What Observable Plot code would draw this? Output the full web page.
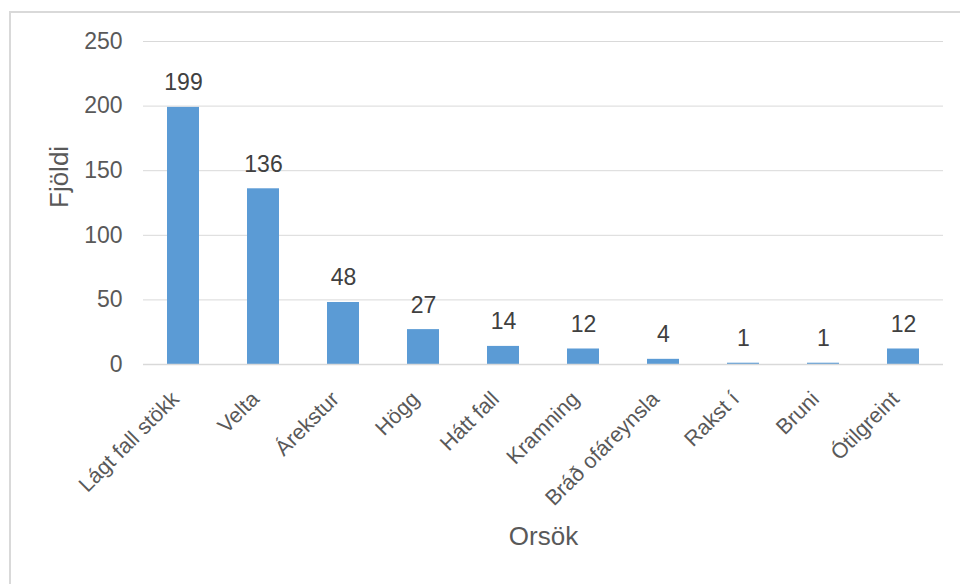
<!DOCTYPE html>
<html>
<head>
<meta charset="utf-8">
<script src="https://cdn.jsdelivr.net/npm/d3@7"></script>
<script src="https://cdn.jsdelivr.net/npm/@observablehq/plot@0.6"></script>
<style>
  html, body { margin: 0; padding: 0; background: #fff; }
  body { width: 960px; height: 584px; position: relative; overflow: hidden; font-family: "Liberation Sans", Arial, sans-serif; }
  #frame { position: absolute; left: 9px; top: 11px; width: 980px; height: 640px; border: 2px solid #d9d9d9; box-sizing: border-box; }
  #chart { position: absolute; left: 0; top: 0; }
</style>
</head>
<body>
<div id="frame"></div>
<div id="chart"></div>
<script>
const categories = ["Lágt fall stökk", "Velta", "Árekstur", "Högg", "Hátt fall", "Kramning", "Bráð ofáreynsla", "Rakst í", "Bruni", "Ótilgreint"];
const counts = [199, 136, 48, 27, 14, 12, 4, 1, 1, 12];
const yTicks = [0, 50, 100, 150, 200, 250];
const yTitle = "Fjöldi";
const xTitle = "Orsök";

const data = categories.map((c, i) => ({cat: c, n: counts[i]}));

const chart = Plot.plot({
  width: 960,
  height: 584,
  marginLeft: 143,
  marginRight: 17,
  marginTop: 41,
  marginBottom: 220,
  style: {fontFamily: "'Liberation Sans', Arial, sans-serif", fontSize: "23px", color: "#595959", background: "transparent"},
  x: {domain: categories, paddingInner: 0.6, paddingOuter: 0.3, label: null},
  y: {domain: [0, 250], label: null},
  marks: [
    Plot.gridY(yTicks, {stroke: "#d9d9d9", strokeOpacity: 1, strokeWidth: 1}),
    Plot.barY(data, {x: "cat", y: "n", fill: "#5b9bd5"}),
    Plot.ruleY([0], {stroke: "#d9d9d9", strokeWidth: 1.5}),
    Plot.axisY(yTicks, {tickSize: 0, tickPadding: 21, fontSize: 23, fill: "#595959", label: null}),
    Plot.axisX({tickSize: 0, tickPadding: 25, dx: -8, dy: 6, tickRotate: -45, fontSize: 21.5, fill: "#595959", label: null}),
    Plot.text(data, {x: "cat", y: "n", text: d => String(d.n), dy: -17, lineAnchor: "bottom", fontSize: 23, fill: "#404040"}),
    Plot.text([yTitle], {frameAnchor: "left", dx: -84, dy: 5, rotate: -90, fontSize: 26, fill: "#595959"}),
    Plot.text([xTitle], {frameAnchor: "bottom", dy: 180, fontSize: 26, fill: "#595959"})
  ]
});
document.getElementById("chart").appendChild(chart);
</script>
</body>
</html>
